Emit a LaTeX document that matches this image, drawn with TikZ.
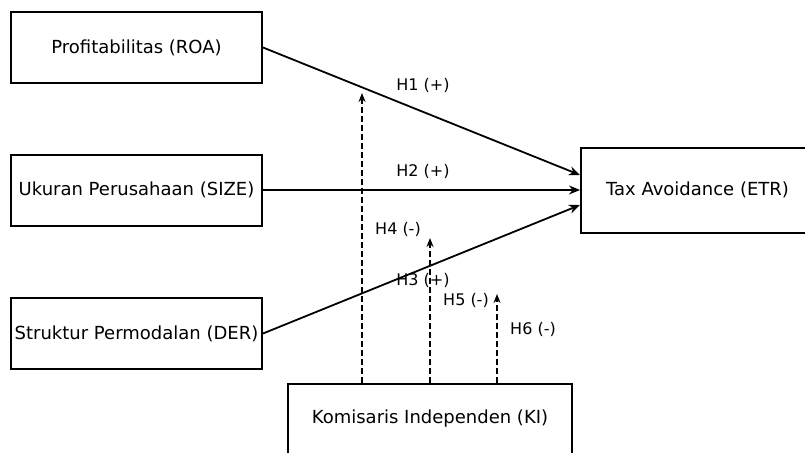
\documentclass[tikz,border=0pt]{standalone}
\usepackage{fontspec}
\setmainfont{DejaVu Sans}
\usetikzlibrary{arrows.meta}

\tikzset{
  varbox/.style={draw,line width=2pt,minimum width=251pt,minimum height=71pt,
    inner sep=0pt,font=\fontsize{18}{21}\selectfont},
  path/.style={line width=1.8pt,-{Stealth[length=11pt,width=9pt]}},
  modpath/.style={line width=1.8pt,dashed,dash pattern=on 6pt off 3pt,
    -{Stealth[length=9pt,width=7pt]}},
  hlabel/.style={font=\fontsize{16}{19}\selectfont}
}

\begin{document}
\begin{tikzpicture}[x=1pt,y=-1pt]
    \useasboundingbox (0,0) rectangle (805,452);
    \clip (0,0) rectangle (805,452);
    \node[varbox] (roa) at (136.5,47.5) {Profitabilitas (ROA)};
    \node[varbox] (size) at (136.5,190) {Ukuran Perusahaan (SIZE)};
    \node[varbox] (der) at (136.5,333.5) {Struktur Permodalan (DER)};
    \node[varbox,minimum width=233pt,minimum height=85pt] (etr) at (697.5,190) {Tax Avoidance (ETR)};
    \node[varbox,minimum width=284pt,minimum height=70pt] (ki) at (430,419) {Komisaris Independen (KI)};
    % direct effects
    \draw[path] (roa.east) -- ([yshift=15pt]etr.west);
    \draw[path] (size.east) -- (etr.west);
    \draw[path] (der.east) -- ([yshift=-15pt]etr.west);
    % moderation
    \coordinate (m1) at (362,93);
    \coordinate (m2) at (430,238);
    \coordinate (m3) at (497,294);
    \foreach \m in {m1,m2,m3}
      \draw[modpath] (ki.north -| \m) -- (\m);
    \node[hlabel] (h1) at (423,85) {H1 (+)};
    \node[hlabel] (h2) at (423,171) {H2 (+)};
    \node[hlabel] (h3) at (423,280) {H3 (+)};
    \node[hlabel] (h4) at (398,229) {H4 (-)};
    \node[hlabel] (h5) at (466,300) {H5 (-)};
    \node[hlabel] (h6) at (533,329) {H6 (-)};
\end{tikzpicture}
\end{document}
